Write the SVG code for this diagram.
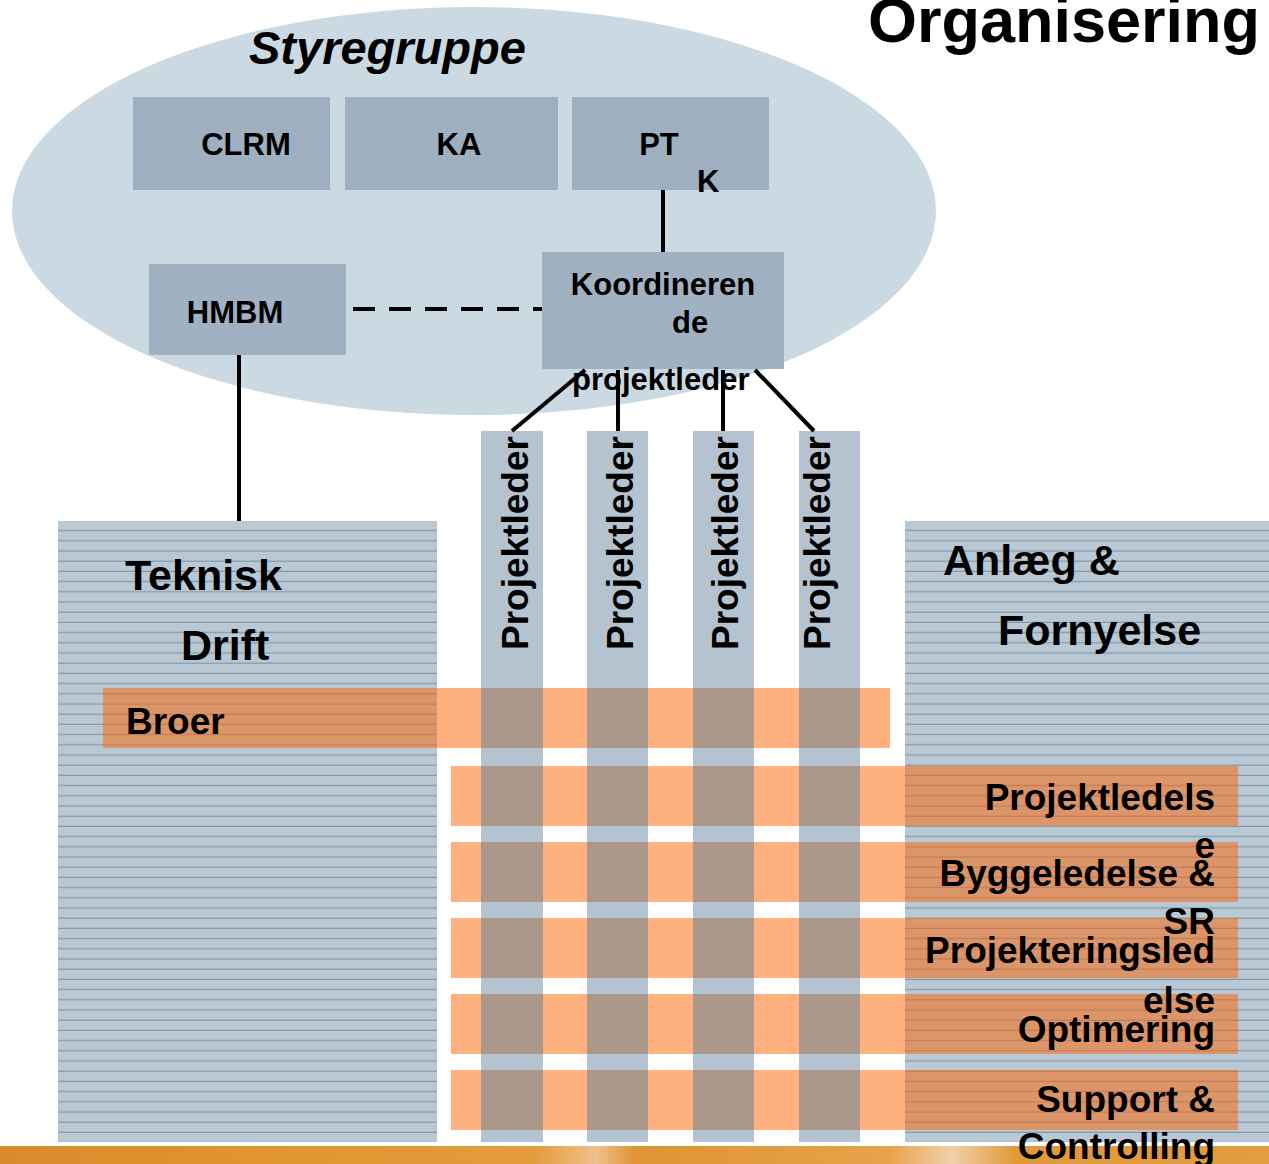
<svg xmlns="http://www.w3.org/2000/svg" width="1269" height="1164" viewBox="0 0 1269 1164">
<defs>
<pattern id="lines" x="0" y="521" width="10" height="10.2" patternUnits="userSpaceOnUse">
<rect x="0" y="0" width="10" height="10.2" fill="#b9c8d3"/>
<rect x="0" y="9" width="10" height="1.2" fill="#8199ad"/>
</pattern>
<linearGradient id="band" x1="0" y1="0" x2="1" y2="0">
<stop offset="0" stop-color="#d98b2c"/>
<stop offset="0.2" stop-color="#e0952f"/>
<stop offset="0.42" stop-color="#e39b3c"/>
<stop offset="0.47" stop-color="#efc08a"/>
<stop offset="0.5" stop-color="#de9433"/>
<stop offset="0.7" stop-color="#e7a24a"/>
<stop offset="0.75" stop-color="#f0d0a8"/>
<stop offset="0.8" stop-color="#e09a3a"/>
<stop offset="1" stop-color="#e39c3f"/>
</linearGradient>
<clipPath id="bandsClip">
<rect x="103" y="688" width="787" height="60"/>
<rect x="451" y="766" width="787" height="60"/>
<rect x="451" y="842" width="787" height="60"/>
<rect x="451" y="918" width="787" height="60"/>
<rect x="451" y="994" width="787" height="60"/>
<rect x="451" y="1070" width="787" height="60"/>
</clipPath>
</defs>
<style>
text{font-family:"Liberation Sans",Arial,sans-serif;font-weight:bold;fill:#000}
.box{fill:#9eb0bf}
.bar{fill:#b4c3cf}
.orange{fill:#ff6100;fill-opacity:0.5}
.overlap{fill:#ab988b}
.conn{stroke:#000;stroke-width:4;fill:none}
.s31{font-size:31px}
.s37{font-size:37px}
.s43{font-size:43px}
.r{text-anchor:end}
.m{text-anchor:middle}
</style>
<rect width="1269" height="1164" fill="#ffffff"/>
<g id="styregruppe">
<ellipse cx="474" cy="211" rx="462" ry="204" fill="#cbd9e2"/>
<text x="249" y="64" font-size="47" font-style="italic">Styregruppe</text>
</g>
<g id="title"><text x="1260" y="42" font-size="63" class="r">Organisering</text></g>
<g id="footer"><rect x="0" y="1146" width="1269" height="18" fill="url(#band)"/></g>
<g id="teknisk-drift">
<rect x="58" y="521" width="379" height="621" fill="url(#lines)"/>
<text x="125" y="590" class="s43">Teknisk</text>
<text x="181" y="660" class="s43">Drift</text>
</g>
<g id="anlaeg-fornyelse">
<rect x="905" y="521" width="364" height="621" fill="url(#lines)"/>
<text x="943" y="575" class="s43">Anlæg &amp;</text>
<text x="998" y="645" class="s43">Fornyelse</text>
</g>
<g id="projektleder-bars">
<rect class="bar" x="481" y="431" width="62" height="711"/>
<rect class="bar" x="587" y="431" width="61" height="711"/>
<rect class="bar" x="693" y="431" width="61" height="711"/>
<rect class="bar" x="799" y="431" width="61" height="711"/>
</g>
<g id="orange-bands">
<rect class="orange" x="103" y="688" width="787" height="60"/>
<rect class="orange" x="451" y="766" width="787" height="60"/>
<rect class="orange" x="451" y="842" width="787" height="60"/>
<rect class="orange" x="451" y="918" width="787" height="60"/>
<rect class="orange" x="451" y="994" width="787" height="60"/>
<rect class="orange" x="451" y="1070" width="787" height="60"/>
</g>
<g id="overlaps" clip-path="url(#bandsClip)">
<rect class="overlap" x="481" y="431" width="62" height="711"/>
<rect class="overlap" x="587" y="431" width="61" height="711"/>
<rect class="overlap" x="693" y="431" width="61" height="711"/>
<rect class="overlap" x="799" y="431" width="61" height="711"/>
</g>
<g id="projektleder-labels">
<text transform="translate(528,650) rotate(-90)" font-size="37">Projektleder</text>
<text transform="translate(633,650) rotate(-90)" font-size="37">Projektleder</text>
<text transform="translate(738,650) rotate(-90)" font-size="37">Projektleder</text>
<text transform="translate(830,650) rotate(-90)" font-size="37">Projektleder</text>
</g>
<g id="broer"><text x="126" y="734" class="s37">Broer</text></g>
<g id="band-labels">
<text x="1215" y="810" class="s37 r">Projektledels</text>
<text x="1215" y="858" class="s37 r">e</text>
<text x="1215" y="886" class="s37 r">Byggeledelse &amp;</text>
<text x="1215" y="934" class="s37 r">SR</text>
<text x="1215" y="963" class="s37 r">Projekteringsled</text>
<text x="1215" y="1013" class="s37 r">else</text>
<text x="1215" y="1042" class="s37 r">Optimering</text>
<text x="1215" y="1112" class="s37 r">Support &amp;</text>
<text x="1215" y="1159" class="s37 r">Controlling</text>
</g>
<g id="clrm"><rect class="box" x="133" y="97" width="197" height="93"/><text x="246" y="155" class="s31 m">CLRM</text></g>
<g id="ka"><rect class="box" x="345" y="97" width="213" height="93"/><text x="459" y="155" class="s31 m">KA</text></g>
<g id="ptk"><rect class="box" x="572" y="97" width="197" height="93"/><text x="659" y="155" class="s31 m">PT</text><text x="697" y="192" class="s31">K</text></g>
<g id="hmbm"><rect x="149" y="264" width="197" height="91" fill="#a0b2c1"/><text x="235" y="323" class="s31 m">HMBM</text></g>
<g id="koordinerende"><rect x="542" y="252" width="242" height="117" fill="#a0b2c1"/>
<text x="663" y="295" class="s31 m">Koordineren</text>
<text x="672" y="333" class="s31">de</text>
<text x="572" y="390" class="s31">projektleder</text></g>
<g id="connectors">
<line class="conn" x1="663" y1="190" x2="663" y2="252"/>
<line class="conn" x1="353" y1="309" x2="542" y2="309" stroke-dasharray="22 14"/>
<line class="conn" x1="239" y1="355" x2="239" y2="521"/>
<line class="conn" x1="585" y1="370" x2="512" y2="431"/>
<line class="conn" x1="618" y1="370" x2="618" y2="431"/>
<line class="conn" x1="723" y1="370" x2="723" y2="431"/>
<line class="conn" x1="755" y1="370" x2="814" y2="431"/>
</g>
</svg>
